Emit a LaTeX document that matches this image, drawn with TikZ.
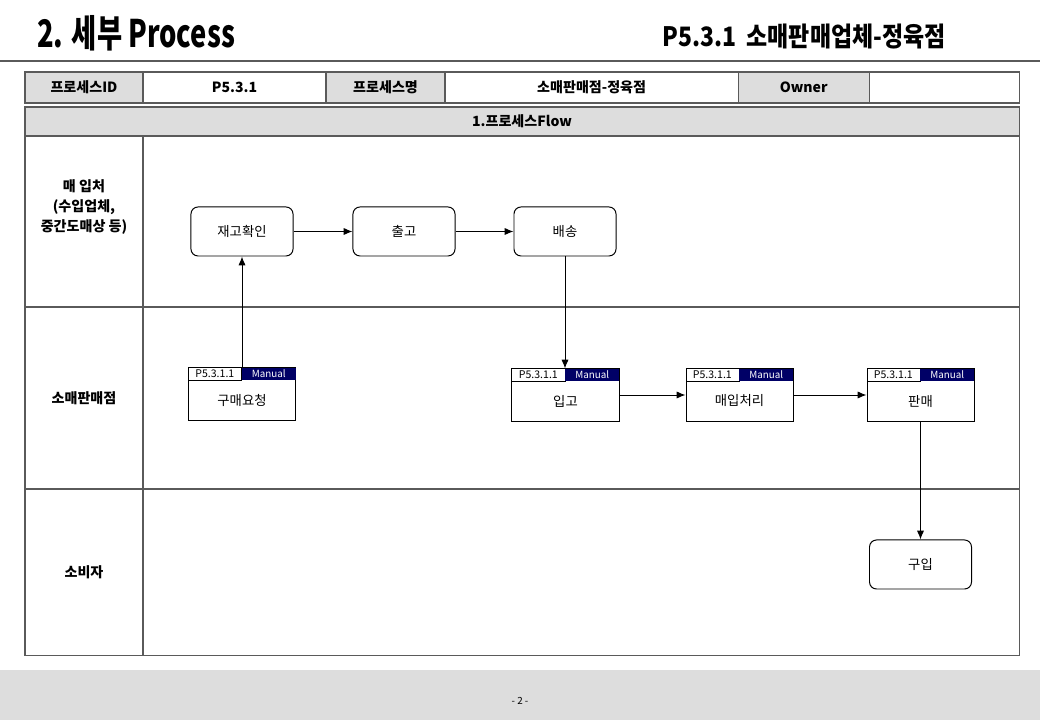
\documentclass[tikz,border=0pt]{standalone}
\usepackage{fontspec}
\setmainfont{Noto Sans CJK KR}
\usetikzlibrary{arrows.meta, positioning}
\definecolor{cellgray}{HTML}{DDDDDD}
\definecolor{manualblue}{HTML}{000066}
\definecolor{rulegray}{HTML}{5A5A5A}

% process box with id / Manual strip
\newcommand{\procbox}[4]{%
  \node[procbody] (#1) at (#2,#3) {};
  \node[procid, anchor=north west] (#1id) at (#1.north west) {P5.3.1.1};
  \node[procman, anchor=north east] (#1man) at (#1.north east) {Manual};
  \node[font=\fontsize{9.5}{11}\selectfont] (#1txt) at ([yshift=-0.15cm]#1.center) {#4};
}

\begin{document}
\begin{tikzpicture}[x=0.025cm, y=-0.025cm,
    cell/.style={draw=rulegray, line width=0.9pt, minimum height=0.775cm, inner sep=0pt, outer sep=0pt,
                 font=\fontsize{10}{12}\selectfont\bfseries},
    graycell/.style={cell, fill=cellgray},
    lane/.style={draw=rulegray, line width=0.9pt, inner sep=0pt, outer sep=0pt},
    task/.style={draw, rounded corners=5pt, line width=0.7pt, minimum width=2.55cm,
                 minimum height=1.225cm, font=\fontsize{9.5}{11}\selectfont},
    procbody/.style={draw, line width=0.7pt, minimum width=2.675cm, minimum height=1.3cm, inner sep=0pt},
    procid/.style={draw, line width=0.5pt, fill=white, minimum width=1.325cm, minimum height=0.3cm,
                   inner sep=0pt, font=\fontsize{7.5}{8}\selectfont},
    procman/.style={fill=manualblue, text=white, minimum width=1.35cm, minimum height=0.3cm,
                    inner sep=0pt, font=\fontsize{7}{8}\selectfont},
    flow/.style={-{Latex[length=2.2mm, width=1.8mm]}, line width=0.7pt}]
  \useasboundingbox (0,0) rectangle (1040,720);

  % title and header rule
  \node[anchor=west, inner sep=0pt] (title) at (37,33)
    {\scalebox{0.72}[1]{\fontsize{27}{30}\selectfont\bfseries 2. 세부 Process}};
  \node[anchor=east, inner sep=0pt] (subtitle) at (946,37)
    {\scalebox{0.86}[1]{\fontsize{19}{22}\selectfont\bfseries P5.3.1\ \ 소매판매업체-정육점}};
  \draw[rulegray, line width=1.2pt] (0,61) -- (1040,61);

  % info row
  \node[graycell, minimum width=2.95cm] (idlbl) at (84,87.5) {프로세스ID};
  \node[cell, minimum width=4.575cm, right=0pt of idlbl] (idval) {P5.3.1};
  \node[graycell, minimum width=2.975cm, right=0pt of idval] (namelbl) {프로세스명};
  \node[cell, minimum width=7.325cm, right=0pt of namelbl] (nameval) {소매판매점-정육점};
  \node[graycell, minimum width=3.275cm, right=0pt of nameval] (ownerlbl) {Owner};
  \node[cell, minimum width=3.75cm, right=0pt of ownerlbl] (ownerval) {};

  % swimlanes
  \node[graycell, minimum width=24.85cm, minimum height=0.725cm] (flowhead) at (522,121.5) {1.프로세스Flow};
  \node[lane, minimum width=2.95cm, minimum height=4.275cm, anchor=north west] (lane1) at (25,136) {};
  \node[lane, minimum width=21.9cm, minimum height=4.275cm, right=0pt of lane1] (area1) {};
  \node[lane, minimum width=2.95cm, minimum height=4.55cm, below=0pt of lane1] (lane2) {};
  \node[lane, minimum width=21.9cm, minimum height=4.55cm, right=0pt of lane2] (area2) {};
  \node[lane, minimum width=2.95cm, minimum height=4.15cm, below=0pt of lane2] (lane3) {};
  \node[lane, minimum width=21.9cm, minimum height=4.15cm, right=0pt of lane3] (area3) {};
  \node[align=center, font=\fontsize{10}{14}\selectfont\bfseries] (lane1txt) at (84,207)
    {매 입처\\(수입업체,\\중간도매상 등)};
  \node[font=\fontsize{10}{12}\selectfont\bfseries] (lane2txt) at (lane2) {소매판매점};
  \node[font=\fontsize{10}{12}\selectfont\bfseries] (lane3txt) at (lane3) {소비자};

  % tasks
  \node[task] (stock) at (242,231.5) {재고확인};
  \node[task] (ship) at (404,231.5) {출고};
  \node[task] (deliver) at (565,231.5) {배송};
  \procbox{order}{242}{394}{구매요청}
  \procbox{receive}{565.5}{395}{입고}
  \procbox{purchase}{739.5}{395}{매입처리}
  \procbox{sale}{920.5}{395}{판매}
  \node[task] (buy) at (920.5,564.5) {구입};

  % flow
  \draw[flow] (order.north) -- (stock.south);
  \draw[flow] (stock) -- (ship);
  \draw[flow] (ship) -- (deliver);
  \draw[flow] (deliver.south) -- (deliver.south |- receive.north);
  \draw[flow] (receive) -- (purchase);
  \draw[flow] (purchase) -- (sale);
  \draw[flow] (sale.south) -- (sale.south |- buy.north);

  % footer
  \fill[cellgray] (0,670) rectangle (1040,720);
  \node[font=\fontsize{7}{8}\selectfont] (page) at (520,701) {- 2 -};
\end{tikzpicture}
\end{document}
